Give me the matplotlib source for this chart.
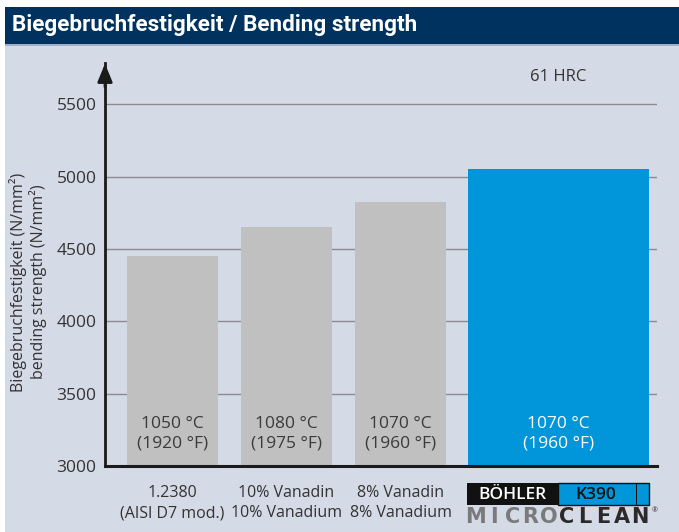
import matplotlib
matplotlib.use('Agg')
import matplotlib.pyplot as plt
from matplotlib.patches import Rectangle

# data
steels = ['1.2380\n(AISI D7 mod.)', '10% Vanadin\n10% Vanadium', '8% Vanadin\n8% Vanadium', '']
strength = [4450, 4650, 4825, 5050]
temps = ['1050 °C\n(1920 °F)', '1080 °C\n(1975 °F)', '1070 °C\n(1960 °F)', '1070 °C\n(1960 °F)']
yticks = [3000, 3500, 4000, 4500, 5000, 5500]

BG = '#d5dae7'
NAVY = '#00325f'
GREY_BAR = '#c0c0c0'
BLUE_BAR = '#0096d9'
TXT = '#333333'
FONT = 'Open Sans'

plt.rcParams['font.family'] = [FONT, 'DejaVu Sans']

fig = plt.figure(figsize=(6.79, 5.32), dpi=100)
fig.patch.set_facecolor('white')


def fx(px):
    return px / 679


def fy(py):
    return 1 - py / 532


# page background and title bar
fig.patches.append(Rectangle((fx(5), 0), 1, fy(44), transform=fig.transFigure,
                             facecolor=BG, edgecolor='none', zorder=-2))
fig.patches.append(Rectangle((fx(5), fy(44)), 1, 37 / 532, transform=fig.transFigure,
                             facecolor=NAVY, edgecolor='none', zorder=-1))
fig.patches.append(Rectangle((fx(5), fy(46)), 1, 2 / 532, transform=fig.transFigure,
                             facecolor='#9fb0c8', edgecolor='none', zorder=-1))
fig.text(fx(12), fy(25.5), 'Biegebruchfestigkeit / Bending strength', color='white',
         fontsize=16.2, fontweight='bold', va='center', ha='left',
         family=['Roboto', 'DejaVu Sans'])

# axes: x in pixel-ish units from the y axis
ax = fig.add_axes([fx(105), 66 / 532, 552 / 679, 403 / 532])
ax.set_zorder(1)
ax.set_facecolor(BG)
ax.set_xlim(0, 552)
ax.set_ylim(3000, 5785)

centers = [67.5, 181.5, 295.5, 453.5]
widths = [91, 91, 91, 181]
colors = [GREY_BAR, GREY_BAR, GREY_BAR, BLUE_BAR]
ax.bar(centers, [s - 3000 for s in strength], width=widths, bottom=3000,
       color=colors, zorder=2)

for y in yticks[1:]:
    ax.axhline(y, color='#8c8c8c', lw=1, zorder=1)

for c, t, col in zip(centers, temps, colors):
    ax.text(c, 3225, t, ha='center', va='center', fontsize=12.5, linespacing=1.3,
            color='white' if col == BLUE_BAR else '#3a3a3a', zorder=3)

ax.text(453, 5690, '61 HRC', ha='center', va='center', fontsize=12, color=TXT)

for s in ['top', 'right']:
    ax.spines[s].set_visible(False)
ax.spines['left'].set_linewidth(2)
ax.spines['bottom'].set_linewidth(2.2)
ax.spines['left'].set_color('#1a1a1a')
ax.spines['bottom'].set_color('#1a1a1a')
ax.annotate('', xy=(0, 5800), xytext=(0, 5600), xycoords='data',
            arrowprops=dict(arrowstyle='-|>,head_length=1.1,head_width=0.45', color='#1a1a1a', lw=2),
            annotation_clip=False)

ax.set_yticks(yticks)
ax.set_yticklabels([str(v) for v in yticks], fontsize=12.5, color=TXT)
ax.tick_params(axis='y', length=0, pad=6)
ax.set_xticks(centers)
ax.set_xticklabels(steels, fontsize=11.5, color=TXT, linespacing=1.3)
ax.tick_params(axis='x', length=0, pad=14)

fig.text(fx(28), fy(282), 'Biegebruchfestigkeit (N/mm²)\nbending strength (N/mm²)',
         rotation=90, ha='center', va='center', fontsize=11.5, color=TXT, linespacing=1.2)

# BÖHLER K390 / MICROCLEAN logo
lx0, lw1, lw2 = 467, 91, 91
ly0, lh = 483, 22
fig.patches.append(Rectangle((fx(lx0), fy(ly0 + lh)), lw1 / 679, lh / 532,
                             transform=fig.transFigure, facecolor='#111111', edgecolor='none', zorder=2))
fig.patches.append(Rectangle((fx(lx0 + lw1), fy(ly0 + lh)), lw2 / 679, lh / 532,
                             transform=fig.transFigure, facecolor=BLUE_BAR, edgecolor='#111111',
                             lw=1, zorder=2))
fig.patches.append(Rectangle((fx(636), fy(ly0 + lh)), 1 / 679, lh / 532,
                             transform=fig.transFigure, facecolor='#111111', edgecolor='none', zorder=3))
fig.text(fx(lx0 + lw1 / 2), fy(ly0 + lh / 2 + 1), 'BÖHLER', color='white',
         fontsize=12.5, fontweight='semibold', ha='center', va='center', zorder=4)
fig.text(fx(lx0 + lw1 + 38), fy(ly0 + lh / 2 + 1), 'K390', color='#111111',
         fontsize=12.5, fontweight='semibold', ha='center', va='center', zorder=4)
for i, ch in enumerate('MICROCLEAN'):
    fig.text(fx(476 + i * 18.2), fy(517), ch, color='#7a7a7a' if i < 5 else '#2a2a2a',
             fontsize=15, fontweight='bold', ha='center', va='center', family='DejaVu Sans')
fig.text(fx(652), fy(511), '®', color='#2a2a2a', fontsize=5, ha='left', va='center')

fig.savefig('out.png', dpi=100, facecolor=fig.get_facecolor())
